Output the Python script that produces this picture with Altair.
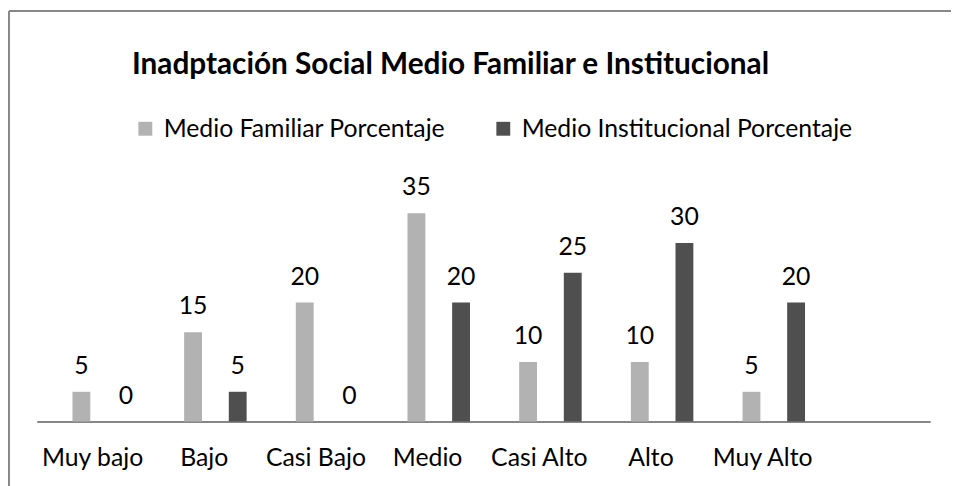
import altair as alt
import pandas as pd

categories = ["Muy bajo", "Bajo", "Casi Bajo", "Medio", "Casi Alto", "Alto", "Muy Alto"]
familiar = [5, 15, 20, 35, 10, 10, 5]
institucional = [0, 5, 0, 20, 25, 30, 20]
series = ["Medio Familiar Porcentaje", "Medio Institucional Porcentaje"]
colors = ["#b2b2b2", "#4f4f4f"]
title_text = "Inadptación Social Medio Familiar e Institucional"

rows = []
for c, f, i in zip(categories, familiar, institucional):
    rows.append({"cat": c, "serie": series[0], "valor": f})
    rows.append({"cat": c, "serie": series[1], "valor": i})
df = pd.DataFrame(rows)

FONT = "Lato"
FS = 25
x_domain = categories + [""]

x = alt.X("cat:N", scale=alt.Scale(domain=x_domain, paddingInner=0, paddingOuter=0),
          sort=x_domain,
          axis=alt.Axis(title=None, labelAngle=0, ticks=False, labelPadding=24,
                        labelFontSize=FS, labelFont=FONT, labelColor="#000000",
                        domainColor="#868686", domainWidth=2, grid=False))
xoff = alt.XOffset("serie:N", sort=series,
                   scale=alt.Scale(domain=series, paddingInner=0.6, paddingOuter=0.551, align=0.726))
y = alt.Y("valor:Q", scale=alt.Scale(domain=[0, 40]), axis=None)

bars = alt.Chart(df).mark_bar().encode(
    x=x, xOffset=xoff, y=y,
    color=alt.Color("serie:N", sort=series,
                    scale=alt.Scale(domain=series, range=colors),
                    legend=alt.Legend(title=None, orient="none", legendX=97, legendY=-68,
                                      direction="horizontal", columns=2, columnPadding=45,
                                      symbolType="square", symbolSize=196, symbolStrokeWidth=0,
                                      labelFontSize=FS, labelFont=FONT, labelColor="#000000",
                                      labelOffset=6, labelLimit=0, padding=0, symbolOpacity=1)),
)

labels = alt.Chart(df).mark_text(baseline="alphabetic", dy=-18, fontSize=FS, font=FONT,
                                 color="#000000").encode(
    x=x, xOffset=xoff, y=y, text=alt.Text("valor:Q"))

one = pd.DataFrame({"t": [title_text]})
title = alt.Chart(one).mark_text(align="left", baseline="alphabetic", fontSize=30, font=FONT,
                                 fontWeight="bold", color="#000000").encode(
    x=alt.value(96), y=alt.value(-110), text="t:N")

border_left = alt.Chart(one).mark_rule(color="#878787", strokeWidth=2).encode(
    x=alt.value(-28), y=alt.value(-174), y2=alt.value(310))
border_top = alt.Chart(one).mark_rule(color="#878787", strokeWidth=2).encode(
    x=alt.value(-28), x2=alt.value(930), y=alt.value(-174))

chart = alt.layer(bars, labels, title, border_left, border_top).properties(
    width=901, height=240,
    autosize=alt.AutoSizeParams(type="none"),
    padding={"left": 29, "top": 175, "right": 21, "bottom": 63},
).configure_view(stroke=None)

chart.save("out.html", embed_options={"renderer": "svg", "actions": False})
